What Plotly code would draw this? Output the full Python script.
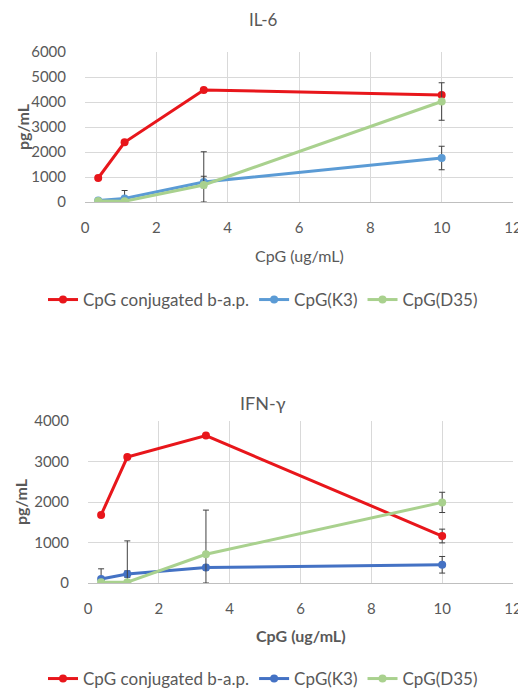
import plotly.graph_objects as go

# ---------------- data ----------------
dose = [0.37, 1.11, 3.33, 10]
series_names = ["CpG conjugated b-a.p.", "CpG(K3)", "CpG(D35)"]

il6_conj = [960, 2390, 4480, 4280]
il6_conj_err = [0, 0, 0, 0]
il6_k3 = [60, 140, 800, 1760]
il6_k3_err = [0, 320, 230, 470]
il6_d35 = [40, 30, 680, 4020]
il6_d35_err_plus = [0, 0, 1330, 750]
il6_d35_err_minus = [0, 0, 680, 750]

ifn_conj = [1680, 3110, 3640, 1160]
ifn_conj_err = [0, 0, 0, 170]
ifn_k3 = [100, 220, 380, 450]
ifn_k3_err = [250, 80, 60, 205]
ifn_d35 = [20, 20, 710, 1990]
ifn_d35_err_plus = [0, 1020, 1090, 250]
ifn_d35_err_minus = [0, 20, 710, 250]

x_ticks = [0, 2, 4, 6, 8, 10, 12]
il6_ticks = [0, 1000, 2000, 3000, 4000, 5000, 6000]
ifn_ticks = [0, 1000, 2000, 3000, 4000]

# ---------------- style ----------------
PAGE_W, PAGE_H = 526, 689
OFF = 8  # default page body margin
W, H = PAGE_W - OFF, PAGE_H - OFF
RED = "#E8161B"
BLUE_TOP = "#5B9BD5"
BLUE_BOT = "#4472C4"
GREEN = "#A9D18E"
FONT = "Lato, Open Sans, sans-serif"
TXT = "#595959"
ERRC = "#404040"


def px(x):
    return (x - OFF) / W


def py(y):
    return 1 - (y - OFF) / H


fig = go.Figure()


def add_series(y, plus, minus, color, name, xa, ya, legend):
    fig.add_trace(go.Scatter(
        x=dose, y=y, name=name, mode="lines+markers",
        line=dict(color=color, width=3),
        marker=dict(color=color, size=8),
        error_y=dict(type="data", array=plus, arrayminus=minus, symmetric=False,
                     color=ERRC, thickness=1, width=3),
        xaxis=xa, yaxis=ya, legend=legend, showlegend=True,
    ))


add_series(il6_conj, il6_conj_err, il6_conj_err, RED, series_names[0], "x", "y", "legend")
add_series(il6_k3, il6_k3_err, il6_k3_err, BLUE_TOP, series_names[1], "x", "y", "legend")
add_series(il6_d35, il6_d35_err_plus, il6_d35_err_minus, GREEN, series_names[2], "x", "y", "legend")

add_series(ifn_conj, ifn_conj_err, ifn_conj_err, RED, series_names[0], "x2", "y2", "legend2")
add_series(ifn_k3, ifn_k3_err, ifn_k3_err, BLUE_BOT, series_names[1], "x2", "y2", "legend2")
add_series(ifn_d35, ifn_d35_err_plus, ifn_d35_err_minus, GREEN, series_names[2], "x2", "y2", "legend2")

xcommon = dict(range=[0, 12], tickvals=x_ticks, showgrid=True, gridcolor="#D9D9D9",
               zeroline=False, showline=True, linecolor="#BFBFBF", linewidth=1,
               ticks="", ticklabelstandoff=12, automargin=False,
               tickfont=dict(family=FONT, size=15, color=TXT))
ycommon = dict(showgrid=True, gridcolor="#D9D9D9", zeroline=False, showline=False,
               ticks="", ticklabelstandoff=18, automargin=False,
               tickfont=dict(family=FONT, size=15, color=TXT))

legcommon = dict(orientation="h", xanchor="center", yanchor="middle",
                 font=dict(family=FONT, size=17, color=TXT),
                 itemwidth=30, tracegroupgap=0, bgcolor="rgba(0,0,0,0)")


def ann(text, x, y, size=16, angle=0):
    return dict(text=text, x=px(x), y=py(y), xref="paper", yref="paper",
                xanchor="center", yanchor="middle", textangle=angle,
                showarrow=False, font=dict(family=FONT, size=size, color=TXT))


fig.update_layout(
    width=W, height=H,
    margin=dict(l=0, r=0, t=0, b=0, autoexpand=False),
    paper_bgcolor="white", plot_bgcolor="white",
    font=dict(family=FONT, color=TXT),
    xaxis=dict(domain=[px(85), px(513)], anchor="y", **xcommon),
    yaxis=dict(domain=[py(202), py(52)], anchor="x", range=[0, 6000],
               tickvals=il6_ticks, **ycommon),
    xaxis2=dict(domain=[px(88), px(513)], anchor="y2", **xcommon),
    yaxis2=dict(domain=[py(583), py(421)], anchor="x2", range=[0, 4000],
                tickvals=ifn_ticks, **ycommon),
    legend=dict(x=px(263), y=py(300), **legcommon),
    legend2=dict(x=px(263), y=py(679), **legcommon),
    annotations=[
        ann("IL-6", 263, 19.5, 17),
        ann("IFN-γ", 263, 403, 18),
        ann("<b>pg/mL</b>", 22, 127, 16, -90),
        ann("<b>pg/mL</b>", 20, 502, 16, -90),
        ann("CpG (ug/mL)", 299, 256, 16),
        ann("<b>CpG (ug/mL)</b>", 301, 635, 16),
    ],
)

fig.write_html("out.html")
